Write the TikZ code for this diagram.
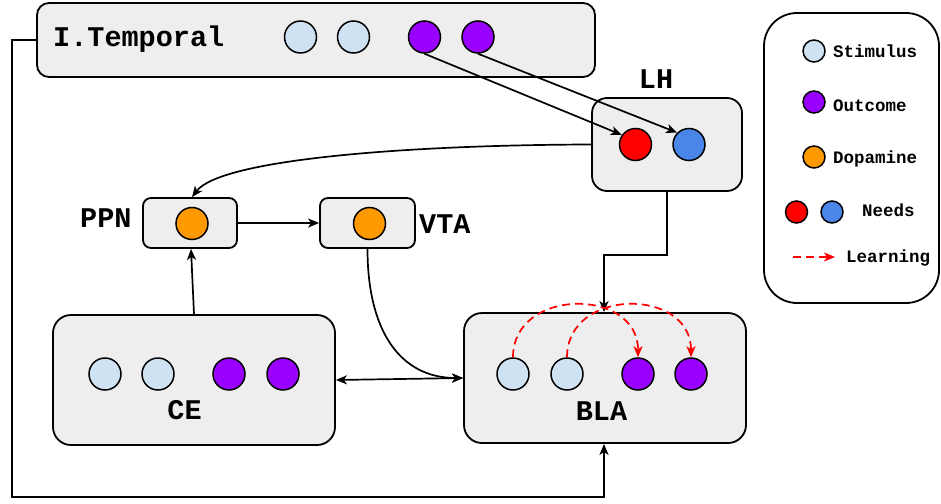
\documentclass[tikz,border=0pt]{standalone}
\usepackage{fontspec}
\setmainfont{Liberation Mono}
\usetikzlibrary{arrows.meta}
\definecolor{boxfill}{HTML}{EEEEEE}
\definecolor{stimc}{HTML}{CFE2F3}
\definecolor{outc}{HTML}{9900FF}
\definecolor{dopc}{HTML}{FF9900}
\definecolor{needr}{HTML}{FF0000}
\definecolor{needb}{HTML}{4A86E8}
\tikzset{
  box/.style={draw=black, fill=boxfill, line width=1.8pt, inner sep=0pt},
  dot/.style={circle, draw=black, line width=1.5pt, minimum size=32pt, inner sep=0pt},
  ldot/.style={circle, draw=black, line width=1.5pt, minimum size=22pt, inner sep=0pt},
  stim/.style={fill=stimc},
  outc/.style={fill=outc},
  dop/.style={fill=dopc},
  big/.style={font=\fontsize{28.5}{30}\selectfont\bfseries, inner sep=0pt},
  small/.style={font=\fontsize{17.5}{20}\selectfont\bfseries, inner sep=0pt},
  tip/.tip={Stealth[length=11pt,width=9pt,inset=3pt]},
  arr/.style={draw=black, line width=1.7pt, -tip},
  arrtwo/.style={draw=black, line width=1.7pt, tip-tip},
  learn/.style={draw=needr, line width=1.7pt, dash pattern=on 8pt off 5pt, -tip},
}
\begin{document}
\begin{tikzpicture}[x=1pt,y=-1pt]
\useasboundingbox (0,0) rectangle (941,503);
% boxes
\node[box, rounded corners=12pt, minimum width=558pt, minimum height=74pt] (it) at (316,40) {};
\node[box, rounded corners=15pt, minimum width=150pt, minimum height=93pt] (lh) at (667,144.5) {};
\node[box, rounded corners=8pt, minimum width=94pt, minimum height=50pt] (ppn) at (190,223) {};
\node[box, rounded corners=8pt, minimum width=95pt, minimum height=50pt] (vta) at (367.5,223) {};
\node[box, rounded corners=18pt, minimum width=282pt, minimum height=130pt] (ce) at (194,380) {};
\node[box, rounded corners=18pt, minimum width=282pt, minimum height=130pt] (bla) at (605,378) {};
\node[draw=black, fill=white, line width=1.8pt, rounded corners=33pt, minimum width=175pt, minimum height=290pt] (leg) at (851.5,158) {};
% labels
\node[big, anchor=base west] (tit) at (53,47) {I.Temporal};
\node[big, anchor=base] (tlh) at (656,88) {LH};
\node[big, anchor=base west] (tppn) at (80,227) {PPN};
\node[big, anchor=base west] (tvta) at (419,233) {VTA};
\node[big, anchor=base] (tce) at (184.5,419) {CE};
\node[big, anchor=base] (tbla) at (601.5,420) {BLA};
% circles
\node[dot, stim] (it1) at (300.5,37) {};
\node[dot, stim] (it2) at (353.5,37) {};
\node[dot, outc] (it3) at (424.5,37) {};
\node[dot, outc] (it4) at (478,37) {};
\node[dot, fill=needr] (red) at (635.5,144.5) {};
\node[dot, fill=needb] (blue) at (689,144.5) {};
\node[dot, dop] (dppn) at (192,223.5) {};
\node[dot, dop] (dvta) at (369.5,223.5) {};
\node[dot, stim] (ce1) at (105,374) {};
\node[dot, stim] (ce2) at (158,374) {};
\node[dot, outc] (ce3) at (229,374) {};
\node[dot, outc] (ce4) at (283,374) {};
\node[dot, stim] (b1) at (513,374) {};
\node[dot, stim] (b2) at (567,374) {};
\node[dot, outc] (b3) at (638,374) {};
\node[dot, outc] (b4) at (691,374) {};
% legend
\node[ldot, stim] (ls) at (814,51) {};
\node[small, anchor=base west] (lst) at (833,58) {Stimulus};
\node[ldot, outc] (lo) at (814,102) {};
\node[small, anchor=base west] (lot) at (833,111) {Outcome};
\node[ldot, dop] (ld) at (814,157) {};
\node[small, anchor=base west] (ldt) at (833,163) {Dopamine};
\node[ldot, fill=needr] (lr) at (796.5,212) {};
\node[ldot, fill=needb] (lb) at (832,212) {};
\node[small, anchor=base west] (lnt) at (862,216) {Needs};
\coordinate (la1) at (793,257);
\coordinate (la2) at (835,257);
\draw[learn] (la1) -- (la2);
\node[small, anchor=base west] (llt) at (846,262) {Learning};
% connectors
\draw[arr] (it3.south) -- (red.145);
\draw[arr] (it4.south) -- (blue.135);
\draw[arr] (lh.west) .. controls (400,145) and (220,160) .. ([xshift=2pt]ppn.north);
\coordinate (j1) at (604,255);
\draw[arr] (lh.south) |- (j1) -- (j1 |- bla.north);
\draw[arr] (ppn.east) -- (vta.west);
\draw[arr] (ce.north) -- ([xshift=1pt]ppn.south);
\draw[arr] (vta.south) .. controls +(0,82) and +(-63,0) .. (bla.west);
\draw[arrtwo] (ce.east) -- (bla.west);
\coordinate (c1) at (12,40);
\coordinate (c2) at (12,497);
\coordinate (c3) at (604,497);
\draw[arr] (it.west) -- (c1) -- (c2) -- (c3) -- (c3 |- bla.south);
\draw[learn] (b1.north) .. controls +(0,-70) and +(0,-70) .. (b3.north);
\draw[learn] (b2.north) .. controls +(0,-70) and +(0,-70) .. (b4.north);
\end{tikzpicture}
\end{document}
